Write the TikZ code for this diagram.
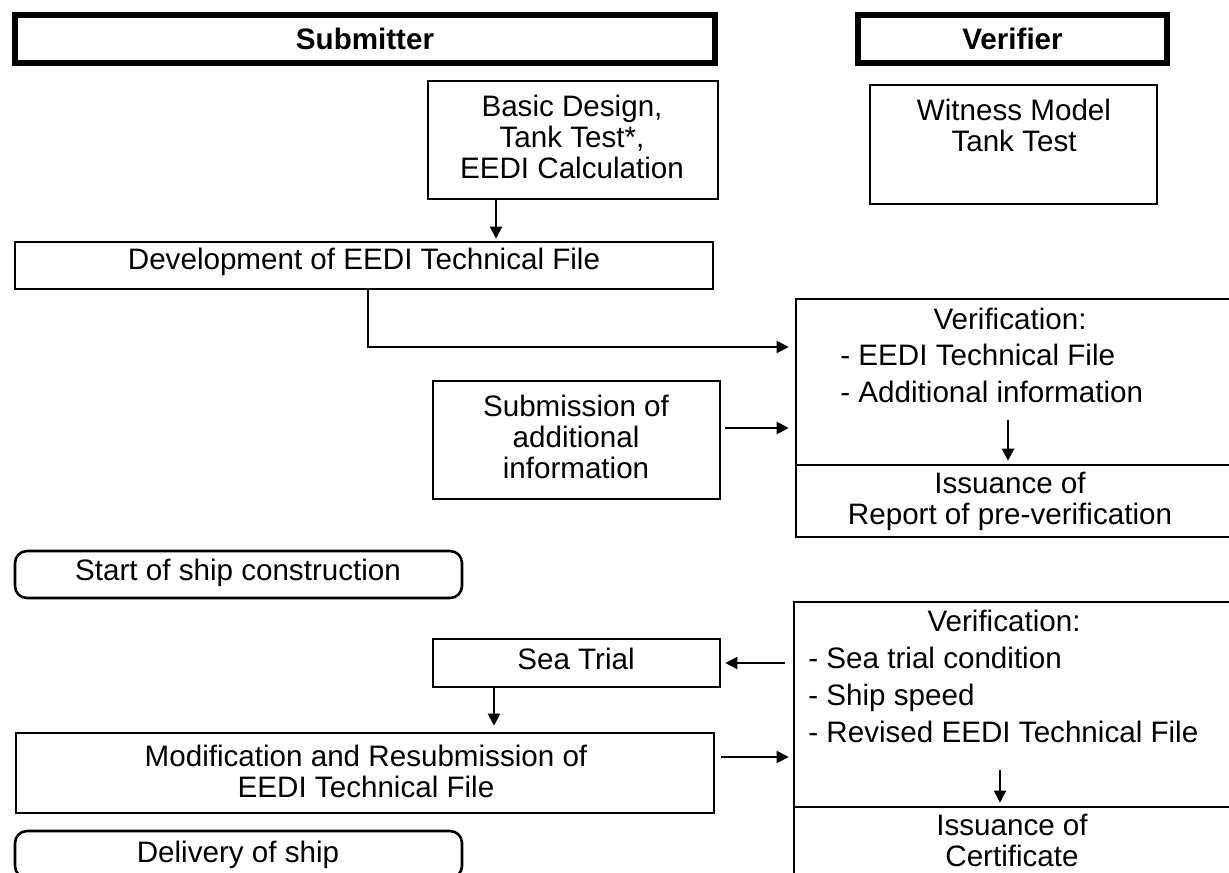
\documentclass[tikz,border=0pt]{standalone}
\usepackage{fontspec}
\setmainfont{Liberation Sans}
\usetikzlibrary{fit,arrows.meta}
\begin{document}
\begin{tikzpicture}[x=0.5pt,y=-0.5pt,
 box/.style={draw, line width=1.3pt, inner sep=0pt},
 head/.style={draw, line width=3pt, inner sep=0pt},
 rbox/.style={box, rounded corners=6pt},
 txt/.style={inner sep=0pt, align=center, font=\fontsize{14.8}{15.5}\selectfont},
 htxt/.style={inner sep=0pt, text height=10.5pt, text depth=0pt, font=\fontsize{14.8}{16}\selectfont\bfseries},
 ltxt/.style={inner sep=0pt, anchor=west, text height=10.5pt, text depth=3pt, font=\fontsize{14.8}{16}\selectfont},
 arr/.style={line width=1pt, -{Triangle[length=6pt,width=6pt]}}]
\useasboundingbox (0,0) rectangle (1229,872);
\clip (0,0) rectangle (1229,872);
% headers
\node[head, fit={(15,15) (715,63)}] (subm) {};
\node[htxt] (submt) at (subm.center) {Submitter};
\node[head, fit={(858,15) (1167,63)}] (verif) {};
\node[htxt] (verift) at (verif.center) {Verifier};
% submitter column
\node[box, fit={(428,81) (718,199)}] (basic) {};
\node[txt] (basict) at (572,137) {Basic Design,\\Tank Test*,\\EEDI Calculation};
\node[box, fit={(15,242) (713,289)}] (dev) {};
\node[txt] (devt) at (364,262) {Development of EEDI Technical File};
\node[box, fit={(433,381) (720,499)}] (sub) {};
\node[txt] (subt) at (576,437) {Submission of\\additional\\information};
\node[rbox, fit={(15,551) (462,598)}] (start) {};
\node[txt] (startt) at (238,573) {Start of ship construction};
\node[box, fit={(433,639) (720,687)}] (sea) {};
\node[txt] (seat) at (576,659) {Sea Trial};
\node[box, fit={(16,733) (714,813)}] (mod) {};
\node[txt] (modt) at (366,771) {Modification and Resubmission of\\EEDI Technical File};
\node[rbox, fit={(15,831) (462,878)}] (deliv) {};
\node[txt] (delivt) at (238,855) {Delivery of ship};
% verifier column
\node[box, fit={(870,85) (1157,204)}] (wit) {};
\node[txt] (wittxt) at (1014,125) {Witness Model\\Tank Test};
\node[box, fit={(796,299) (1240,465)}] (ver1) {};
\node[box, fit={(796,465) (1240,537)}] (iss1) {};
\node[ltxt, anchor=center] (v1head) at (1010,322) {Verification:};
\node[ltxt] (v1a) at (840,358) {- EEDI Technical File};
\node[ltxt] (v1b) at (840,395) {- Additional information};
\node[txt] (iss1txt) at (1010,501) {Issuance of\\Report of pre-verification};
\node[box, fit={(794,602) (1240,807)}] (ver2) {};
\node[box, fit={(794,807) (1240,895)}] (iss2) {};
\node[ltxt, anchor=center] (v2head) at (1004,624) {Verification:};
\node[ltxt] (v2a) at (808,661) {- Sea trial condition};
\node[ltxt] (v2b) at (808,698) {- Ship speed};
\node[ltxt] (v2c) at (808,735) {- Revised EEDI Technical File};
\node[txt] (iss2txt) at (1012,840) {Issuance of\\Certificate};
% helper coordinates
\coordinate (c3) at (496,220);
\coordinate (c1) at (368,347);
\coordinate (c2) at (494,705);
\coordinate (v1s) at (1008,420);
\coordinate (v2s) at (1000,770);
% connectors
\draw[arr, shorten >=1pt] (basic.south -| c3) -- (dev.north -| c3);
\draw[arr, shorten >=3pt] (dev.south -| c1) -- (c1) -- (c1 -| ver1.west);
\draw[arr, shorten <=2pt, shorten >=3pt] ([yshift=6pt]sub.east) -- ([yshift=6pt]sub.east -| ver1.west);
\draw[arr, shorten >=1.5pt] (v1s) -- (v1s |- iss1.north);
\draw[arr, shorten <=4pt, shorten >=2pt] (ver2.west |- sea.east) -- (sea.east);
\draw[arr, shorten >=3pt] (sea.south -| c2) -- (mod.north -| c2);
\draw[arr, shorten <=3pt, shorten >=2pt] ([yshift=8pt]mod.east) -- ([yshift=8pt]mod.east -| ver2.west);
\draw[arr, shorten >=1.5pt] (v2s) -- (v2s |- iss2.north);
\end{tikzpicture}
\end{document}
